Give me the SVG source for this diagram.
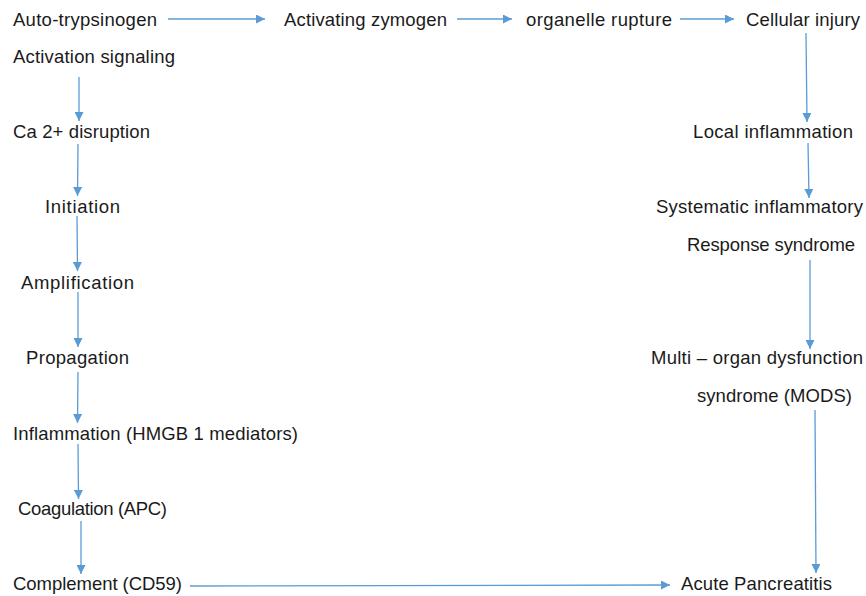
<svg xmlns="http://www.w3.org/2000/svg" width="866" height="596" viewBox="0 0 866 596">
<style>
text{font-family:"Liberation Sans",Arial,sans-serif;font-size:18.5px;fill:#1a1a1a}
.c line{stroke:#5B9BD5;stroke-width:1.3;fill:none}
</style>
<defs>
<marker id="ah" viewBox="0 0 10 10" refX="10" refY="5" markerWidth="9" markerHeight="9" markerUnits="userSpaceOnUse" orient="auto">
<path d="M0,0 L10,5 L0,10 Z" fill="#5B9BD5"/>
</marker>
</defs>
<rect width="866" height="596" fill="#ffffff"/>
<g class="c">
<line x1="168" y1="19" x2="265" y2="19" marker-end="url(#ah)"/>
<line x1="457" y1="19" x2="512" y2="19" marker-end="url(#ah)"/>
<line x1="680" y1="19" x2="734" y2="19" marker-end="url(#ah)"/>
<line x1="79" y1="77" x2="79" y2="121" marker-end="url(#ah)"/>
<line x1="78" y1="144" x2="77.5" y2="196" marker-end="url(#ah)"/>
<line x1="77" y1="216" x2="77.5" y2="271" marker-end="url(#ah)"/>
<line x1="78" y1="292" x2="78" y2="347" marker-end="url(#ah)"/>
<line x1="78" y1="372" x2="77.5" y2="423" marker-end="url(#ah)"/>
<line x1="78" y1="444" x2="78.5" y2="499" marker-end="url(#ah)"/>
<line x1="81" y1="521" x2="81" y2="574" marker-end="url(#ah)"/>
<line x1="190" y1="586" x2="670" y2="585" marker-end="url(#ah)"/>
<line x1="806" y1="33" x2="807" y2="122" marker-end="url(#ah)"/>
<line x1="808" y1="143" x2="809" y2="198" marker-end="url(#ah)"/>
<line x1="810" y1="260" x2="810" y2="349" marker-end="url(#ah)"/>
<line x1="815" y1="410" x2="816" y2="573" marker-end="url(#ah)"/>
</g>
<g id="auto-trypsinogen"><text x="85" y="26" text-anchor="middle" textLength="144">Auto-trypsinogen</text></g>
<g id="activating-zymogen"><text x="365.5" y="26" text-anchor="middle" textLength="163">Activating zymogen</text></g>
<g id="organelle-rupture"><text x="599" y="26" text-anchor="middle" textLength="146">organelle rupture</text></g>
<g id="cellular-injury"><text x="803" y="26" text-anchor="middle" textLength="114">Cellular injury</text></g>
<g id="activation-signaling"><text x="94" y="63" text-anchor="middle" textLength="162">Activation signaling</text></g>
<g id="ca-disruption"><text x="81.5" y="138" text-anchor="middle" textLength="137">Ca 2+ disruption</text></g>
<g id="initiation"><text x="82.5" y="213" text-anchor="middle" textLength="75">Initiation</text></g>
<g id="amplification"><text x="77.5" y="289" text-anchor="middle" textLength="113">Amplification</text></g>
<g id="propagation"><text x="77.5" y="364" text-anchor="middle" textLength="103">Propagation</text></g>
<g id="inflammation"><text x="155.5" y="440" text-anchor="middle" textLength="285">Inflammation (HMGB 1 mediators)</text></g>
<g id="coagulation"><text x="92.5" y="515" text-anchor="middle" textLength="149">Coagulation (APC)</text></g>
<g id="complement"><text x="97.5" y="590" text-anchor="middle" textLength="169">Complement (CD59)</text></g>
<g id="local-inflammation"><text x="773" y="138" text-anchor="middle" textLength="160">Local inflammation</text></g>
<g id="sirs"><text x="759.5" y="213" text-anchor="middle" textLength="207">Systematic inflammatory</text><text x="771" y="251" text-anchor="middle" textLength="168">Response syndrome</text></g>
<g id="mods"><text x="757" y="364" text-anchor="middle" textLength="212">Multi – organ dysfunction</text><text x="774.5" y="402" text-anchor="middle" textLength="155">syndrome (MODS)</text></g>
<g id="acute-pancreatitis"><text x="756.5" y="590" text-anchor="middle" textLength="151">Acute Pancreatitis</text></g>
</svg>
